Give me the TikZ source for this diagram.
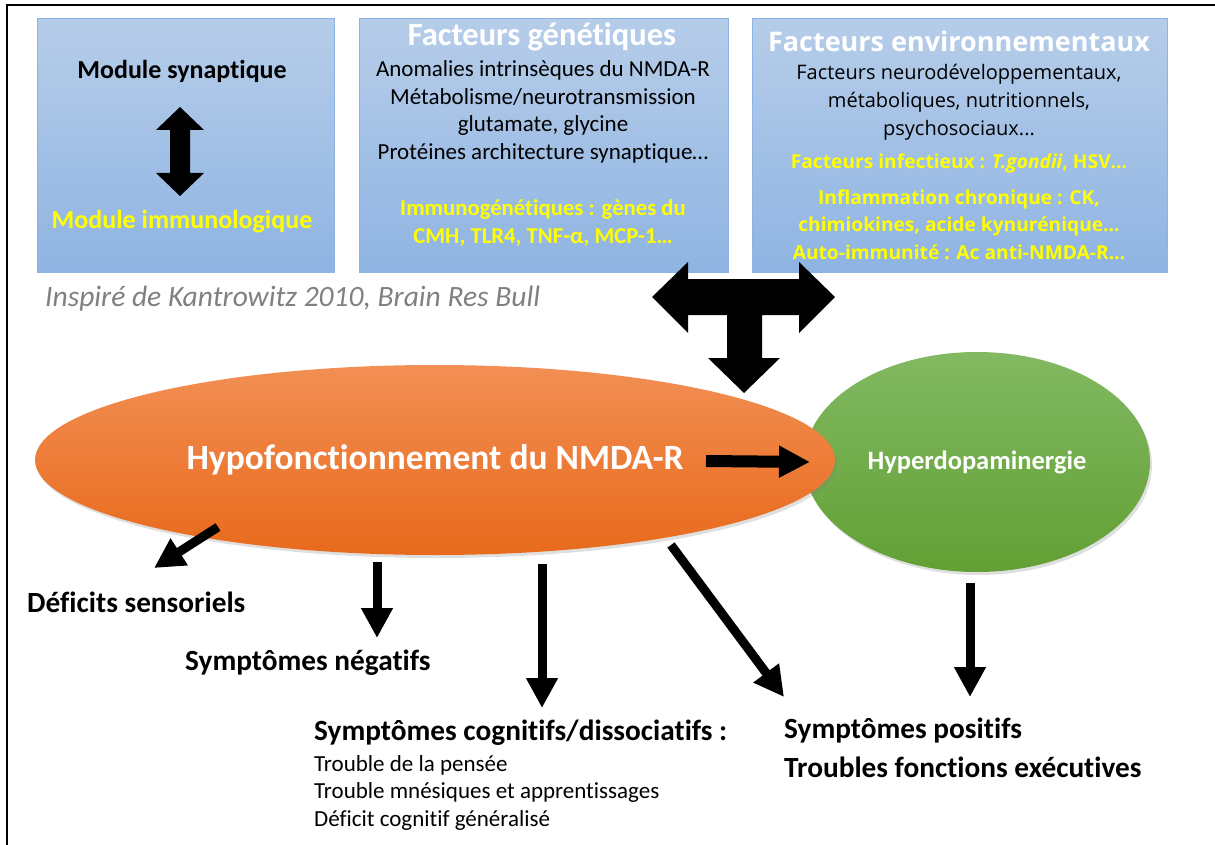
\documentclass[tikz,border=0pt]{standalone}
\usepackage{fontspec}
\setmainfont{Carlito}[Ligatures=NoCommon]
\newfontfamily\osfont{Open Sans}
\usetikzlibrary{shapes.geometric}
\usetikzlibrary{arrows.meta}
\usetikzlibrary{shadows}

\definecolor{boxtop}{RGB}{182,205,233}
\definecolor{boxbot}{RGB}{143,180,226}
\definecolor{boxline}{RGB}{141,179,226}
\definecolor{orangetop}{RGB}{242,143,84}
\definecolor{orangebot}{RGB}{232,106,28}
\definecolor{greentop}{RGB}{130,185,98}
\definecolor{greenbot}{RGB}{98,160,52}
\definecolor{srcgray}{RGB}{128,128,128}
\definecolor{jaune}{RGB}{255,255,0}

\begin{document}
\begin{tikzpicture}[x=1pt, y=-1pt, every node/.style={inner sep=0pt},
    box/.style={draw=boxline, line width=1pt, top color=boxtop, bottom color=boxbot, minimum height=253pt},
    bigarrow/.style={line width=9pt, -{Triangle[length=30pt,width=30pt]}},
    titre/.style={text=white, font=\fontsize{32.5}{38}\selectfont\bfseries},
    gras/.style={font=\fontsize{29.3}{34}\selectfont\bfseries}]
				\useasboundingbox (0,0) rectangle (1215,845);
				\draw[line width=2.5pt] (7,845) -- (7,5) -- (1215,5);
				
				% les trois cadres
				\node[box, minimum width=297pt] (box1) at (185.5,145.5) {};
				\node[box, minimum width=369pt] (box2) at (543.5,145.5) {};
				\node[box, minimum width=415pt] (box3) at (959.5,145.5) {};
				
				\node[font=\fontsize{26}{30}\selectfont\bfseries] (modsyn) at (182,71) {Module synaptique};
				\node[font=\fontsize{26}{30}\selectfont\bfseries, text=jaune] (modimm) at (182,222) {Module immunologique};
				\fill (180,107) -- (204,130) -- (190,130) -- (190,173) -- (204,173) -- (180,196)
					-- (156,173) -- (170,173) -- (170,130) -- (156,130) -- cycle;
				
				\node[titre] (gentitle) at (542,37) {Facteurs génétiques};
				\node[align=center, font=\fontsize{23}{27.5}\selectfont] (genlist) at (543,112)
					{Anomalies intrinsèques du NMDA-R\\Métabolisme/neurotransmission\\glutamate, glycine\\Protéines architecture synaptique…};
				\node[align=center, text=jaune, font=\fontsize{22.7}{28}\selectfont\bfseries] (genimm) at (543,223)
					{Immunogénétiques : gènes du\\CMH, TLR4, TNF-α, MCP-1…};
				
				\node[text=white, font=\osfont\fontsize{27}{32}\selectfont\bfseries] (envtitle) at (959,41) {Facteurs environnementaux};
				\node[align=center, font=\osfont\fontsize{20}{28}\selectfont] (envlist) at (959,102)
					{Facteurs neurodéveloppementaux,\\métaboliques, nutritionnels,\\psychosociaux...};
				\node[text=jaune, font=\osfont\fontsize{19.2}{22}\selectfont\bfseries] (envinf) at (959,163)
					{Facteurs infectieux : \textit{T.gondii}, HSV…};
				\node[align=center, text=jaune, font=\osfont\fontsize{19.2}{27.5}\selectfont\bfseries] (envimm) at (959,224.5)
					{Inflammation chronique : CK,\\chimiokines, acide kynurénique…\\Auto-immunité : Ac anti-NMDA-R…};
				
				\node[anchor=west, text=srcgray, font=\fontsize{29.5}{34}\selectfont\itshape] (source) at (45,299)
					{Inspiré de Kantrowitz 2010, Brain Res Bull};
				
				% fleche en T
				\fill (652,297) -- (688,262) -- (688,279) -- (799,279) -- (799,262) -- (835,297) -- (799,333)
					-- (799,315) -- (762,315) -- (762,358) -- (780,358) -- (744,393) -- (708,358) -- (727,358)
					-- (727,315) -- (688,315) -- (688,333) -- cycle;
				
				% ellipses
				\node[ellipse, minimum width=346pt, minimum height=220pt, top color=greentop, bottom color=greenbot,
					drop shadow={opacity=0.25, shadow xshift=2pt, shadow yshift=-3pt},
					text=white, font=\fontsize{26.5}{30}\selectfont\bfseries] (hyper) at (977,462) {Hyperdopaminergie};
				\node[ellipse, minimum width=800pt, minimum height=190pt, top color=orangetop, bottom color=orangebot,
					drop shadow={opacity=0.25, shadow xshift=2pt, shadow yshift=-3pt},
					text=white, font=\fontsize{35.5}{42}\selectfont\bfseries] (hypo) at (435,460) {Hypofonctionnement du NMDA-R};
				
				\coordinate (h1) at (706,461);
				\coordinate (h2) at (810,462);
				\draw[line width=12pt, -{Triangle[length=31pt,width=30pt]}] (h1) -- (h2);
				
				% symptomes
				\node[gras, anchor=west] (defsens) at (27,602) {Déficits sensoriels};
				\node[gras, anchor=west] (symneg) at (185,663) {Symptômes négatifs};
				\node[gras, anchor=west] (symcog) at (314,733) {Symptômes cognitifs/dissociatifs :};
				\node[anchor=west, align=left, font=\fontsize{23}{27.5}\selectfont] (coglist) at (314,792.5)
					{Trouble de la pensée\\Trouble mnésiques et apprentissages\\Déficit cognitif généralisé};
				\node[gras, anchor=west] (sympos) at (784,731) {Symptômes positifs};
				\node[gras, anchor=west] (troubfe) at (784,767) {Troubles fonctions exécutives};
				
				\coordinate (a1) at (218,527);
				\coordinate (b1) at (154,568);
				\coordinate (a2) at (377,562);
				\coordinate (b2) at (377,638);
				\coordinate (a3) at (542,564);
				\coordinate (b3) at (542,708);
				\coordinate (a4) at (671,545);
				\coordinate (b4) at (784,697);
				\coordinate (a5) at (970,583);
				\coordinate (b5) at (970,697);
				\draw[bigarrow] (a1) -- (b1);
				\draw[bigarrow] (a2) -- (b2);
				\draw[bigarrow] (a3) -- (b3);
				\draw[bigarrow] (a4) -- (b4);
				\draw[bigarrow] (a5) -- (b5);
			\end{tikzpicture}
\end{document}
